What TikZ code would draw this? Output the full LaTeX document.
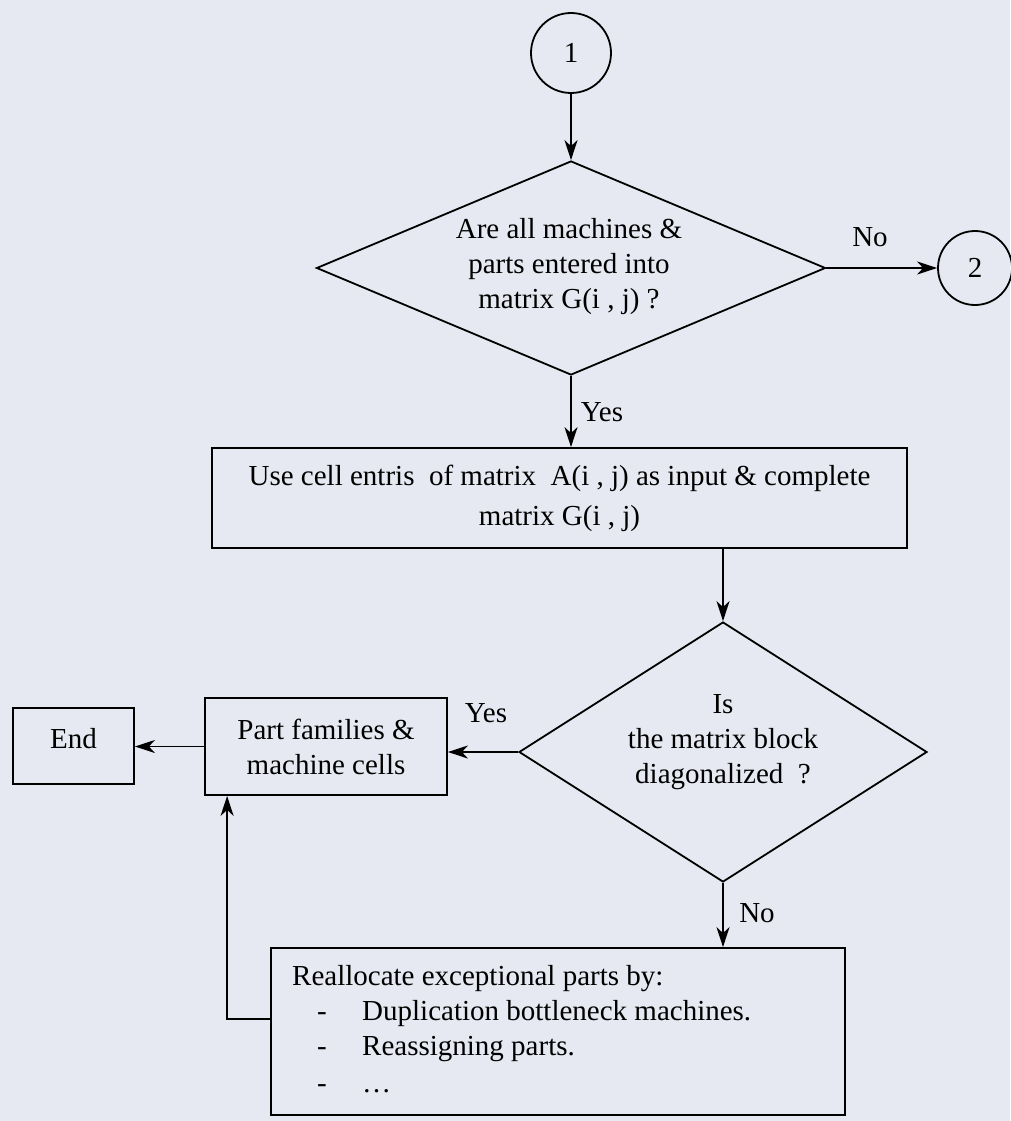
\documentclass[tikz,border=0pt]{standalone}
\usepackage{fontspec}
\setmainfont{Liberation Serif}
\usetikzlibrary{shapes.geometric,arrows.meta,calc}
\definecolor{paper}{HTML}{E6E9F1}
\begin{document}
\begin{tikzpicture}[x=1pt,y=-1pt,
  every node/.style={font=\fontsize{29}{35}\selectfont, inner sep=0pt},
  flow/.style={line width=1.8pt, -{Stealth[length=20pt,width=13pt,inset=6pt]}},
  outline/.style={draw, line width=1.8pt},
  procbox/.style={outline, rectangle, align=center},
  decision/.style={outline, diamond, inner sep=0pt},
  connector/.style={outline, circle},
]
% page
\fill[paper] (0,0) rectangle (1010,1121);
\useasboundingbox (0,0) rectangle (1010,1121);

% entry connector and first decision
\node[connector, minimum size=80pt] (c1) at (571,53) {1};
\node[decision, minimum width=509pt, minimum height=214pt] (d1) at (571,268) {};
\node[align=center] (d1t) at (569,267) {Are all machines \&\\parts entered into\\matrix G(i , j) ?};
\node[connector, minimum size=74pt] (c2) at (975,268) {2};
\node (no1) at (870,237) {No};
\node (yes1) at (602,412) {Yes};

% building the matrix
\node[procbox, minimum width=695pt, minimum height=100pt, font=\fontsize{29}{40}\selectfont] (b1) at (559.5,498)
  {Use cell entris\ \ of matrix\ \ A(i , j) as input \& complete\\matrix G(i , j)};

% second decision
\node[decision, minimum width=408pt, minimum height=260pt] (d2) at (723,752) {};
\node[align=center] (d2t) at (723,742) {Is\\the matrix block\\diagonalized\ \ ?};
\node (yes2) at (486,713) {Yes};
\node (no2) at (757,913) {No};

% results
\node[procbox, minimum width=242pt, minimum height=97pt] (pf) at (326,746.5) {Part families \&\\machine cells};
\node[procbox, minimum width=121pt, minimum height=76pt, text height=20pt, text depth=16pt] (end) at (73.5,746) {End};

% reallocation step
\node[procbox, minimum width=574pt, minimum height=167pt] (re) at (558,1031.5) {};
\node[anchor=base west] (r0) at (292,985) {Reallocate exceptional parts by:};
\node[anchor=base west] (r1d) at (317,1020) {-};
\node[anchor=base west] (r1) at (362,1020) {Duplication bottleneck machines.};
\node[anchor=base west] (r2d) at (317,1055) {-};
\node[anchor=base west] (r2) at (362,1055) {Reassigning parts.};
\node[anchor=base west] (r3d) at (317,1092) {-};
\node[anchor=base west] (r3) at (362,1092) {\textellipsis};

% connectors
\draw[flow] (c1.south) -- (d1.north);
\draw[flow] (d1.east) -- (c2.west);
\draw[flow] (d1.south) -- (d1.south |- b1.north);
\draw[flow] (d2.north |- b1.south) -- (d2.north);
\draw[flow] (d2.west) -- (d2.west -| pf.east);
\draw[flow] (pf.west) -- (pf.west -| end.east);
\draw[flow] (d2.south) -- (d2.south |- re.north);
\coordinate (fb) at ($(re.north west)!0.425!(re.south west)$);
\coordinate (pfin) at ($(pf.south west)+(23,0)$);
\draw[flow] (fb) -| (pfin);
\end{tikzpicture}
\end{document}
